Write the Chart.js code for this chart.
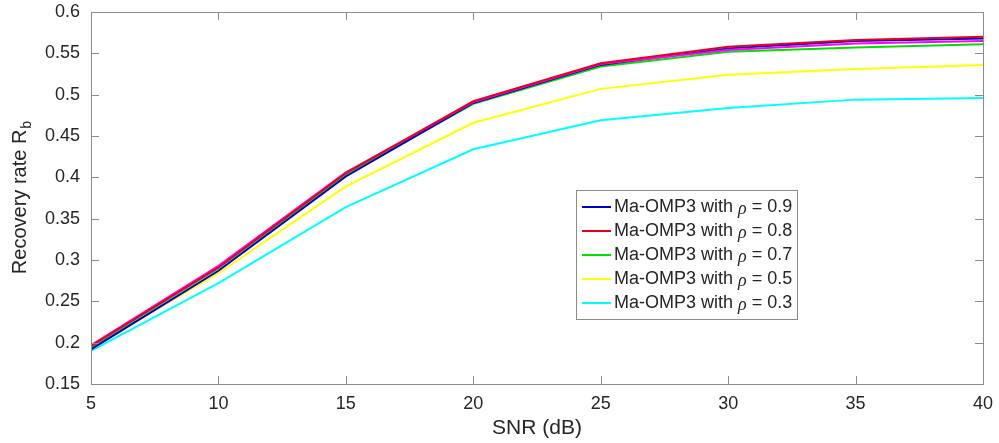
<!DOCTYPE html>
<html lang="en">
<head>
  <meta charset="UTF-8">
  <title>Recovery rate vs SNR</title>
  <style>
    html, body {
      margin: 0;
      padding: 0;
      background: #ffffff;
    }
    #wrap {
      width: 999px;
      height: 443px;
    }
  </style>
  <script src="https://cdn.jsdelivr.net/npm/chart.js"></script>
</head>
<body>
  <div id="wrap"><canvas id="snrChart" width="999" height="443"></canvas></div>

  <script>
    // values
    const snr = [5, 10, 15, 20, 25, 30, 35, 40];
    const rho09 = [0.192, 0.287, 0.401, 0.490, 0.536, 0.556, 0.565, 0.568];
    const rho08 = [0.196, 0.291, 0.405, 0.492, 0.538, 0.558, 0.566, 0.570];
    const rho07 = [0.195, 0.290, 0.403, 0.489, 0.534, 0.552, 0.557, 0.561];
    const rho05 = [0.194, 0.284, 0.389, 0.466, 0.507, 0.524, 0.531, 0.536];
    const rho03 = [0.190, 0.272, 0.364, 0.434, 0.469, 0.484, 0.494, 0.496];
    const extra = [0.197, 0.293, 0.406, 0.491, 0.537, 0.554, 0.562, 0.565]; // magenta curve, not in legend

    const rhoLabels = ['0.9', '0.8', '0.7', '0.5', '0.3'];
    const xTicks = [5, 10, 15, 20, 25, 30, 35, 40];
    const yTicks = [0.15, 0.2, 0.25, 0.3, 0.35, 0.4, 0.45, 0.5, 0.55, 0.6];

    const font = "'Liberation Sans', Arial, sans-serif";
    const axisGray = '#8c8c8c';
    const textColor = '#262626';

    function pts(vals) {
      return snr.map((x, i) => ({ x: x, y: vals[i] }));
    }

    function series(label, vals, color, order, inLegend) {
      return {
        label: label,
        data: pts(vals),
        borderColor: color,
        backgroundColor: color,
        borderWidth: 2,
        pointRadius: 0,
        tension: 0,
        fill: false,
        order: order,
        inLegend: inLegend
      };
    }

    // inward MATLAB style ticks + full box
    const frame = {
      id: 'frame',
      afterDatasetsDraw(chart) {
        const { ctx, chartArea: a, scales } = chart;
        ctx.save();
        ctx.strokeStyle = axisGray;
        ctx.lineWidth = 1;
        ctx.beginPath();
        scales.x.ticks.forEach((t, i) => {
          const px = Math.round(scales.x.getPixelForTick(i)) + 0.5;
          ctx.moveTo(px, a.bottom); ctx.lineTo(px, a.bottom - 8);
          ctx.moveTo(px, a.top); ctx.lineTo(px, a.top + 8);
        });
        scales.y.ticks.forEach((t, i) => {
          const py = Math.round(scales.y.getPixelForTick(i)) + 0.5;
          ctx.moveTo(a.left, py); ctx.lineTo(a.left + 8, py);
          ctx.moveTo(a.right, py); ctx.lineTo(a.right - 8, py);
        });
        ctx.stroke();
        ctx.strokeRect(Math.round(a.left) + 0.5, Math.round(a.top) + 0.5,
          Math.round(a.right - a.left), Math.round(a.bottom - a.top));

        // y axis title with subscript
        ctx.fillStyle = textColor;
        ctx.translate(20, (a.top + a.bottom) / 2);
        ctx.rotate(-Math.PI / 2);
        const main = 'Recovery rate R';
        ctx.font = '14px ' + font;
        const subW = ctx.measureText('b').width;
        ctx.font = '20px ' + font;
        const mainW = ctx.measureText(main).width;
        const x0 = -(mainW + subW) / 2;
        ctx.textBaseline = 'middle';
        ctx.fillText(main, x0, 0);
        ctx.font = '14px ' + font;
        ctx.fillText('b', x0 + mainW + 1, 7);
        ctx.restore();
      }
    };

    // legend box inside the axes
    const boxLegend = {
      id: 'boxLegend',
      afterDraw(chart) {
        const { ctx } = chart;
        const items = chart.data.datasets.filter(d => d.inLegend);
        const left = 576, top = 190, w = 221, h = 129;
        ctx.save();
        ctx.fillStyle = '#ffffff';
        ctx.fillRect(left, top, w, h);
        ctx.strokeStyle = axisGray;
        ctx.lineWidth = 1;
        ctx.strokeRect(left + 0.5, top + 0.5, w, h);
        ctx.textBaseline = 'middle';
        items.forEach((d, i) => {
          const y = top + 17 + i * 24;
          ctx.strokeStyle = d.borderColor;
          ctx.lineWidth = 2;
          ctx.beginPath();
          ctx.moveTo(582, y);
          ctx.lineTo(611, y);
          ctx.stroke();
          ctx.fillStyle = textColor;
          let x = 614;
          ctx.font = '18px ' + font;
          const a = 'Ma-OMP3 with ';
          ctx.fillText(a, x, y);
          x += ctx.measureText(a).width;
          ctx.font = 'italic 18px "Liberation Serif", serif';
          ctx.fillText('\u03C1', x, y + 2);
          x += ctx.measureText('\u03C1').width;
          ctx.font = '18px ' + font;
          ctx.fillText(' = ' + d.rho, x, y);
        });
        ctx.restore();
      }
    };

    const datasets = [
      series('Ma-OMP3 with rho = 0.9', rho09, '#0000cc', 3, true),
      series('Ma-OMP3 with rho = 0.8', rho08, '#e8001c', 0, true),
      series('Ma-OMP3 with rho = 0.7', rho07, '#00e000', 4, true),
      series('Ma-OMP3 with rho = 0.5', rho05, '#ffff00', 5, true),
      series('Ma-OMP3 with rho = 0.3', rho03, '#00ffff', 6, true),
      series('extra', extra, '#ff00ff', 2, false)
    ];
    datasets.slice(0, 5).forEach((d, i) => { d.rho = rhoLabels[i]; });

    const ctx = document.getElementById('snrChart').getContext('2d');
    new Chart(ctx, {
      type: 'line',
      data: { datasets: datasets },
      options: {
        responsive: false,
        animation: false,
        layout: { padding: 0 },
        plugins: {
          legend: { display: false },
          tooltip: { enabled: false }
        },
        scales: {
          x: {
            type: 'linear',
            min: 5,
            max: 40,
            afterBuildTicks(scale) { scale.ticks = xTicks.map(v => ({ value: v })); },
            afterFit(scale) {
              scale.height = 59;
              scale.paddingLeft = 0;
              scale.paddingRight = 16;
            },
            grid: { display: false, drawTicks: false },
            border: { display: false },
            ticks: {
              padding: 9,
              color: textColor,
              font: { family: font, size: 18 },
              callback: v => String(v)
            },
            title: {
              display: true,
              text: 'SNR (dB)',
              color: textColor,
              font: { family: font, size: 21 },
              padding: { top: 2, bottom: 2 }
            }
          },
          y: {
            type: 'linear',
            min: 0.15,
            max: 0.6,
            afterBuildTicks(scale) { scale.ticks = yTicks.map(v => ({ value: v })); },
            afterFit(scale) {
              scale.width = 91;
              scale.paddingTop = 12;
              scale.paddingBottom = 0;
            },
            grid: { display: false, drawTicks: false },
            border: { display: false },
            ticks: {
              padding: 11,
              color: textColor,
              font: { family: font, size: 18 },
              callback: v => String(parseFloat(v.toFixed(2)))
            }
          }
        }
      },
      plugins: [frame, boxLegend]
    });
  </script>
</body>
</html>
